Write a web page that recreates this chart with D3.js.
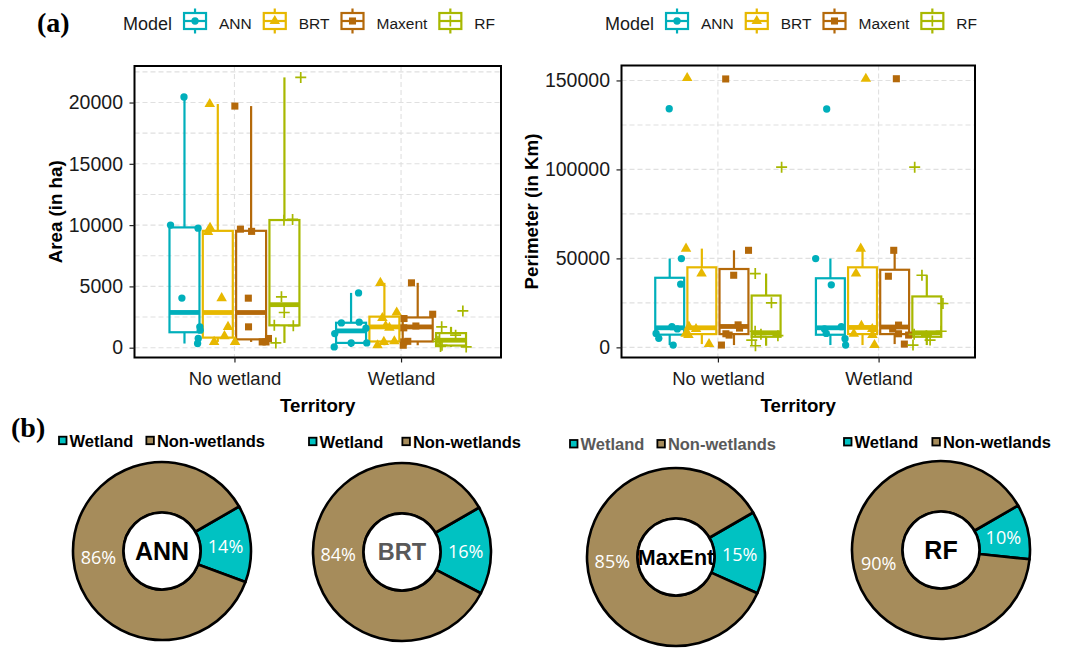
<!DOCTYPE html>
<html>
<head>
<meta charset="utf-8">
<script src="https://cdn.jsdelivr.net/npm/d3@7"></script>
<style>
  body { margin: 0; background: #fff; }
  svg { display: block; }
</style>
</head>
<body>
<svg id="chart" width="1086" height="648"></svg>
<script>
// ---------------- data ----------------
const models = ["ANN", "BRT", "Maxent", "RF"];
const territories = ["No wetland", "Wetland"];

// Area (ha) of each mapped unit, by model and territory
const areaNoWetlandANN    = [20450, 10000, 9750, 4050, 1700, 1430, 750, 340];
const areaNoWetlandBRT    = [19880, 9780, 9450, 4040, 1700, 940, 470, 470];
const areaNoWetlandMaxent = [19710, 9670, 9490, 4040, 1700, 750, 470, 470];
const areaNoWetlandRF     = [22050, 10460, 10400, 4150, 2870, 1830, 1800, 390];
const areaWetlandANN      = [4470, 2080, 2020, 1590, 1150, 390, 390, 60];
const areaWetlandBRT      = [5290, 2870, 2420, 1770, 1620, 520, 470, 200];
const areaWetlandMaxent   = [5290, 2730, 2380, 1770, 1620, 520, 470, 200];
const areaWetlandRF       = [3000, 1700, 1020, 700, 520, 200, 100, 60];

// Perimeter (km) of each mapped unit, by model and territory
const perimNoWetlandANN    = [134100, 49900, 35500, 11640, 10340, 7840, 5050, 1290];
const perimNoWetlandBRT    = [151340, 55490, 41480, 11640, 10340, 7640, 6900, 1840];
const perimNoWetlandMaxent = [150840, 54540, 40530, 12640, 10840, 7640, 6900, 1290];
const perimNoWetlandRF     = [101240, 41480, 25000, 9040, 7340, 6550, 4100, 900];
const perimWetlandANN      = [133940, 49890, 35140, 11640, 10340, 7840, 4840, 1290];
const perimWetlandBRT      = [150960, 55490, 41480, 12040, 10340, 7640, 6900, 1290];
const perimWetlandMaxent   = [150960, 54540, 39970, 12510, 10340, 7640, 6900, 1840];
const perimWetlandRF       = [101240, 40530, 24640, 9040, 7340, 6550, 4100, 1290];

const areaTicks = [0, 5000, 10000, 15000, 20000];
const areaMinorTicks = [2500, 7500, 12500, 17500, 22500];
const perimTicks = [0, 50000, 100000, 150000];
const perimMinorTicks = [25000, 75000, 125000];

// Donut charts: share of wetland / non-wetland area per model (%)
const pieModels = ["ANN", "BRT", "MaxEnt", "RF"];
const wetlandPct = [14, 16, 15, 10];
const nonWetlandPct = [86, 84, 85, 90];
const pieClasses = ["Wetland", "Non-wetlands"];

// ---------------- styling ----------------
const modelColors = ["#00AFBB", "#E7B800", "#B4690A", "#A8B800"];
const pieColors = ["#00C2C2", "#A68C5B"];
const SANS = "'Liberation Sans', Arial, Helvetica, sans-serif";
const SERIF = "'Liberation Serif', 'Times New Roman', serif";

const svg = d3.select("#chart");
const color = d3.scaleOrdinal().domain(models).range(modelColors);

function groupRows(noW, wet) {
  const rows = [];
  models.forEach((m, i) => {
    rows.push({ territory: territories[0], model: m, values: noW[i] });
    rows.push({ territory: territories[1], model: m, values: wet[i] });
  });
  return rows;
}
const areaRows = groupRows(
  [areaNoWetlandANN, areaNoWetlandBRT, areaNoWetlandMaxent, areaNoWetlandRF],
  [areaWetlandANN, areaWetlandBRT, areaWetlandMaxent, areaWetlandRF]);
const perimRows = groupRows(
  [perimNoWetlandANN, perimNoWetlandBRT, perimNoWetlandMaxent, perimNoWetlandRF],
  [perimWetlandANN, perimWetlandBRT, perimWetlandMaxent, perimWetlandRF]);

function boxStats(vals) {
  const s = vals.slice().sort(d3.ascending);
  const q1 = d3.quantileSorted(s, 0.25);
  const med = d3.quantileSorted(s, 0.5);
  const q3 = d3.quantileSorted(s, 0.75);
  const iqr = q3 - q1;
  const lo = d3.min(s.filter(v => v >= q1 - 1.5 * iqr));
  const hi = d3.max(s.filter(v => v <= q3 + 1.5 * iqr));
  return { q1, med, q3, lo, hi };
}

// marker glyphs, one per model
function markerPath(model) {
  if (model === "ANN") return d3.symbol(d3.symbolCircle, 42)();
  if (model === "BRT") return d3.symbol(d3.symbolTriangle, 48)();
  if (model === "Maxent") return d3.symbol(d3.symbolSquare, 50)();
  return "M-5.5,0H5.5M0,-5.5V5.5";
}
function drawMarker(sel, model, col) {
  const isPlus = model === "RF";
  sel.append("path")
    .attr("d", markerPath(model))
    .attr("fill", isPlus ? "none" : col)
    .attr("stroke", isPlus ? col : "none")
    .attr("stroke-width", isPlus ? 1.7 : 0);
}

function drawPanel(cfg) {
  const g = svg.append("g");
  const x = d3.scalePoint().domain(territories).range([cfg.x0, cfg.x1]).padding(0.6);
  const step = x.step();
  const dodge = d3.scaleBand().domain(models)
    .range([-0.4 * step, 0.4 * step]).paddingInner(0.1).paddingOuter(0.05);
  const y = d3.scaleLinear().domain(cfg.domain).range([cfg.y1, cfg.y0]);

  // grid
  const grid = g.append("g").attr("stroke", "#e0e0e0").attr("stroke-width", 1.1)
    .attr("stroke-dasharray", "5,3");
  cfg.ticks.concat(cfg.minor).forEach(v => {
    grid.append("line").attr("x1", cfg.x0).attr("x2", cfg.x1)
      .attr("y1", y(v)).attr("y2", y(v));
  });
  territories.forEach(t => {
    grid.append("line").attr("x1", x(t)).attr("x2", x(t))
      .attr("y1", cfg.y0).attr("y2", cfg.y1);
  });

  // boxes
  const rng = d3.randomUniform.source(d3.randomLcg(cfg.seed))(-1, 1);
  cfg.rows.forEach(r => {
    const st = boxStats(r.values);
    const col = color(r.model);
    const left = x(r.territory) + dodge(r.model);
    const w = dodge.bandwidth();
    const cx = left + w / 2;
    const b = g.append("g").attr("stroke", col).attr("fill", "none");
    b.append("line").attr("x1", cx).attr("x2", cx).attr("y1", y(st.q3)).attr("y2", y(st.hi)).attr("stroke-width", 2.2);
    b.append("line").attr("x1", cx).attr("x2", cx).attr("y1", y(st.q1)).attr("y2", y(st.lo)).attr("stroke-width", 2.2);
    b.append("rect").attr("x", left).attr("y", y(st.q3)).attr("width", w)
      .attr("height", y(st.q1) - y(st.q3)).attr("stroke-width", 2.2);
    b.append("line").attr("x1", left).attr("x2", left + w).attr("y1", y(st.med)).attr("y2", y(st.med))
      .attr("stroke-width", 4.8);
    r._cx = cx; r._w = w;
  });
  // jittered observations
  cfg.rows.forEach(r => {
    const col = color(r.model);
    r.values.forEach(v => {
      const px = r._cx + rng() * r._w * 0.58;
      const m = g.append("g").attr("transform", `translate(${px},${y(v)})`);
      drawMarker(m, r.model, col);
    });
  });

  // border
  g.append("rect").attr("x", cfg.x0).attr("y", cfg.y0)
    .attr("width", cfg.x1 - cfg.x0).attr("height", cfg.y1 - cfg.y0)
    .attr("fill", "none").attr("stroke", "#000").attr("stroke-width", 2);

  // axes
  const ya = g.append("g").attr("transform", `translate(${cfg.x0},0)`)
    .call(d3.axisLeft(y).tickValues(cfg.ticks).tickSize(5).tickPadding(6.5).tickFormat(d3.format("d")));
  const xa = g.append("g").attr("transform", `translate(0,${cfg.y1})`)
    .call(d3.axisBottom(x).tickSize(5).tickPadding(9.5));
  [ya, xa].forEach(a => {
    a.select(".domain").remove();
    a.selectAll(".tick line").attr("stroke", "#222").attr("stroke-width", 1.2);
    a.selectAll(".tick text").attr("fill", "#1a1a1a").attr("font-family", SANS);
  });
  ya.selectAll(".tick text").attr("font-size", 19.5);
  xa.selectAll(".tick text").attr("font-size", 18.5);

  // titles
  g.append("text").attr("x", (cfg.x0 + cfg.x1) / 2).attr("y", 411.5)
    .attr("text-anchor", "middle").attr("font-family", SANS).attr("font-weight", "bold")
    .attr("font-size", 18.7).text("Territory");
  g.append("text")
    .attr("transform", `translate(${cfg.titleX},${(cfg.y0 + cfg.y1) / 2}) rotate(-90)`)
    .attr("text-anchor", "middle").attr("dy", "0.36em").attr("font-family", SANS)
    .attr("font-weight", "bold").attr("font-size", 18.7).text(cfg.yTitle);

  // legend
  const lg = g.append("g").attr("font-family", SANS).attr("fill", "#1a1a1a");
  const cy = 21;
  const t = lg.append("text").attr("x", cfg.legendX).attr("y", cy + 8.5).attr("font-size", 18).text("Model");
  let kx = cfg.legendX + t.node().getComputedTextLength() + 11;
  models.forEach(m => {
    const col = color(m);
    const k = lg.append("g").attr("transform", `translate(${kx},${cy})`);
    const kl = k.append("g").attr("stroke", col).attr("stroke-width", 2.2).attr("fill", "none");
    kl.append("line").attr("x1", 12).attr("x2", 12).attr("y1", -12.5).attr("y2", -8);
    kl.append("line").attr("x1", 12).attr("x2", 12).attr("y1", 8).attr("y2", 12.5);
    kl.append("rect").attr("x", 1).attr("y", -8).attr("width", 22).attr("height", 16);
    kl.append("line").attr("x1", 1).attr("x2", 23).attr("y1", 0).attr("y2", 0);
    const mk = k.append("g").attr("transform", "translate(12,0)");
    drawMarker(mk, m, col);
    const lbl = lg.append("text").attr("x", kx + 36).attr("y", cy + 7.5)
      .attr("font-size", 15.5).text(m);
    kx = kx + 36 + lbl.node().getComputedTextLength() + 11;
  });
}

drawPanel({
  x0: 134.5, x1: 501, y0: 66, y1: 357.5,
  domain: [-800, 22980], ticks: areaTicks, minor: areaMinorTicks,
  rows: areaRows, yTitle: "Area (in ha)", titleX: 55, legendX: 123, seed: 0.17
});
drawPanel({
  x0: 621.5, x1: 975, y0: 65.5, y1: 357.5,
  domain: [-5700, 158400], ticks: perimTicks, minor: perimMinorTicks,
  rows: perimRows, yTitle: "Perimeter (in Km)", titleX: 531.5, legendX: 605, seed: 0.53
});

// panel tags
svg.append("text").attr("x", 37).attr("y", 32).attr("font-family", SERIF)
  .attr("font-weight", "bold").attr("font-size", 28).text("(a)");
svg.append("text").attr("x", 11).attr("y", 437).attr("font-family", SERIF)
  .attr("font-weight", "bold").attr("font-size", 28).text("(b)");

// ---------------- donuts ----------------
const pieCx = [162, 402, 676, 941];
const pieCy = [551, 552, 557, 550];
const pieLegendX = [58, 308, 569, 843];
const pieLegendY = [440.7, 441.7, 444, 442];
const pieLegendGap = [12, 18, 12, 13];
const centerFont = [25, 23.5, 21.5, 25];
const centerColor = ["#000", "#595959", "#000", "#000"];
const legendColor = ["#000", "#000", "#595959", "#000"];
const rOut = 89, rIn = 38.5;
const rot = 60 * Math.PI / 180;

const pie = d3.pie().sort(null).value(d => d).startAngle(rot).endAngle(rot + 2 * Math.PI);
const arc = d3.arc().innerRadius(rIn).outerRadius(rOut);
const labelArc = d3.arc().innerRadius((rIn + rOut) / 2).outerRadius((rIn + rOut) / 2);

pieModels.forEach((name, i) => {
  const g = svg.append("g").attr("transform", `translate(${pieCx[i]},${pieCy[i]})`);
  const arcs = pie([wetlandPct[i], nonWetlandPct[i]]);
  g.selectAll("path.slice").data(arcs).enter().append("path")
    .attr("class", "slice")
    .attr("d", arc)
    .attr("fill", (d, j) => pieColors[j])
    .attr("stroke", "#000").attr("stroke-width", 2.6).attr("stroke-linejoin", "round");
  g.append("circle").attr("r", rIn).attr("fill", "#fff").attr("stroke", "#000").attr("stroke-width", 2.6);
  g.selectAll("text.pct").data(arcs).enter().append("text")
    .attr("class", "pct")
    .attr("transform", d => `translate(${labelArc.centroid(d)})`)
    .attr("text-anchor", "middle").attr("dy", "0.4em")
    .attr("font-family", "'Open Sans', 'Noto Sans', sans-serif").attr("font-size", 18)
    .attr("fill", "#fff").text(d => d.data + "%");
  g.append("text").attr("text-anchor", "middle").attr("dy", "0.36em")
    .attr("font-family", SANS).attr("font-weight", "bold")
    .attr("font-size", centerFont[i]).attr("fill", centerColor[i]).text(name);

  // legend
  const lg = svg.append("g").attr("font-family", SANS).attr("font-weight", "bold")
    .attr("font-size", 16.5).attr("fill", legendColor[i]);
  let lx = pieLegendX[i];
  const ly = pieLegendY[i];
  pieClasses.forEach((c, j) => {
    lg.append("rect").attr("x", lx + 1).attr("y", ly - 4).attr("width", 7.5).attr("height", 7.5)
      .attr("fill", pieColors[j]).attr("stroke", "#000").attr("stroke-width", 1.8);
    const tx = lg.append("text").attr("x", lx + 11.5).attr("y", ly + 6).text(c);
    lx = lx + 11.5 + tx.node().getComputedTextLength() + pieLegendGap[i];
  });
});
</script>
</body>
</html>
